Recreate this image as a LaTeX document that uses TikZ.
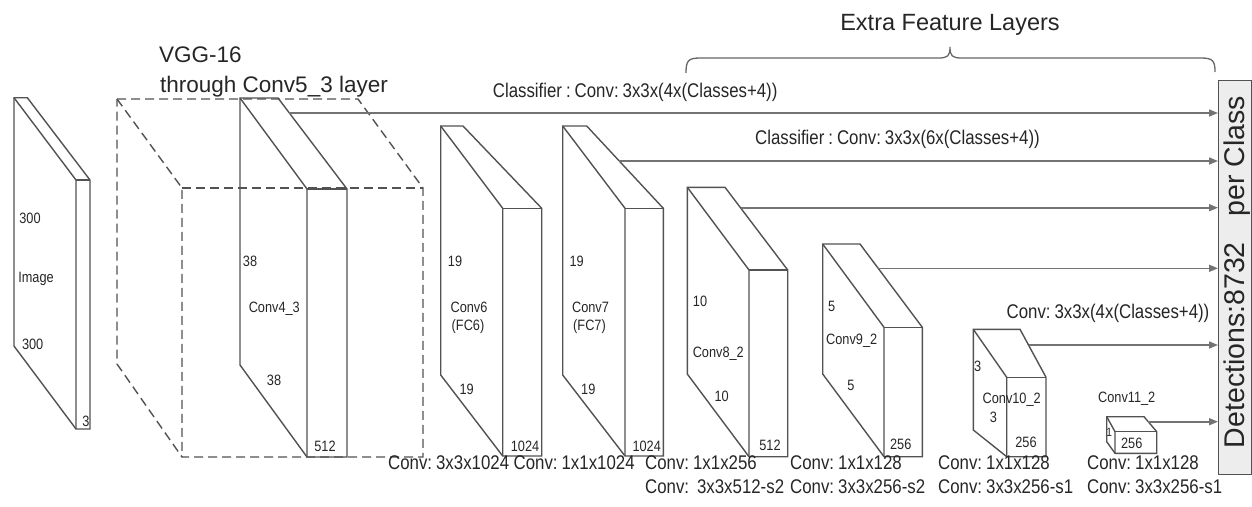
\documentclass[tikz,border=0pt]{standalone}
\usepackage{fontspec}
\setmainfont{Liberation Sans}
\newfontfamily\condf[FakeStretch=0.85,WordSpace=0.85]{Liberation Sans}
\usetikzlibrary{arrows.meta,calc}
\newcommand\layerbox[9][]{%
  \draw[blockline,#1] (#2,#4) -- (#3,#4) -- (#7,#8) -- (#7,#9) -- (#6,#9) -- (#2,#5) -- cycle;
  \draw[blockline,#1] (#2,#4) -- (#6,#8) -- (#6,#9);
  \draw[blockline,#1] (#6,#8) -- (#7,#8);
}
\begin{document}
\frenchspacing
\begin{tikzpicture}[x=1pt,y=-1pt,
  blockline/.style={draw=black!68, line width=1.4pt, line join=miter},
  vggbox/.style={dash pattern=on 9pt off 5pt},
  labtxt/.style={font=\condf\fontsize{15}{15}\selectfont, anchor=base, inner sep=0pt, text=black!85},
  smalltxt/.style={font=\condf\fontsize{12}{12}\selectfont, anchor=base, inner sep=0pt, text=black!85},
  captxt/.style={font=\condf\fontsize{19.8}{19.8}\selectfont, anchor=base west, inner sep=0pt, text=black!85},
  bigtxt/.style={font=\fontsize{22.5}{22.5}\selectfont, anchor=base west, inner sep=0pt, text=black!85},
  arrline/.style={draw=black!55, line width=1.6pt, -{Triangle[length=9pt,width=7pt]}},
]
\useasboundingbox (0,0) rectangle (1252,506);

% blocks: [style] x0 x1 y0 y1 x2 x3 y2 y3
\layerbox{14}{27.3}{97.7}{346}{76}{90}{180}{429}
\layerbox[vggbox]{117}{358}{99}{364}{182}{423}{188}{457}
\layerbox{240}{278}{98}{365}{307}{347}{189}{457}
\layerbox{440.7}{463}{126}{375}{502.7}{541.7}{208.3}{456}
\layerbox{562.7}{586.7}{126}{375}{625}{663.3}{208.3}{456}
\layerbox{687.3}{725}{187.3}{374}{749}{787.7}{270}{456.7}
\layerbox{822.7}{860}{244}{374}{884}{922.3}{327.3}{456.7}
\layerbox{973.3}{1020}{329.3}{430}{1006.7}{1046}{377.3}{456.7}
\layerbox{1106.7}{1144}{416.7}{441.7}{1115}{1156.7}{431.7}{453.3}

% detections box
\node[draw=black!68, fill=black!7, line width=1.2pt, minimum width=33pt, minimum height=394pt,
      inner sep=0pt, anchor=north west] (det) at (1218,80) {};
\node[rotate=90, font=\fontsize{28.5}{28.5}\selectfont, inner sep=0pt, text=black!85] (dettext)
      at (1237,272) {Detections:8732\hspace{26pt}per Class};

% arrow starts
\coordinate (a1) at (289.4,113);
\coordinate (a2) at (619.3,161);
\coordinate (a3) at (740.5,207.7);
\coordinate (a4) at (878.2,268.3);
\coordinate (a5) at (1028.5,345);
\coordinate (a6) at (1148.2,421.7);
\foreach \a in {a1,a2,a3,a4,a5,a6}{
  \draw[arrline] (\a) -- (\a -| det.west);
}

% brace
\draw[draw=black!60, line width=1.3pt]
  (686,73) .. controls (686,61) and (688,58) .. (700,58) -- (938,58)
  .. controls (948,58) and (950,56) .. (950,47)
  .. controls (950,56) and (952,58) .. (962,58) -- (1201,58)
  .. controls (1213,58) and (1215,61) .. (1215,72);

% titles
\node[bigtxt] (t1) at (159,62) {VGG-16};
\node[bigtxt] (t2) at (160,92) {through Conv5\_3 layer};
\node[bigtxt, anchor=base, font=\fontsize{23.5}{23.5}\selectfont] (t3) at (950,30.7) {Extra Feature Layers};
\node[captxt] (c1) at (492.7,97) {Classifier : Conv: 3x3x(4x(Classes+4))};
\node[captxt] (c2) at (755,144) {Classifier : Conv: 3x3x(6x(Classes+4))};
\node[captxt, anchor=base] (c3) at (1108,318) {Conv: 3x3x(4x(Classes+4))};

% image labels
\node[labtxt] (i1) at (30,223) {300};
\node[labtxt] (i2) at (36,282.7) {Image};
\node[labtxt] (i3) at (32.7,349.3) {300};
\node[labtxt] (i4) at (86,426) {3};
% conv4_3
\node[labtxt] (k1) at (250,266) {38};
\node[labtxt] (k2) at (274.3,312.3) {Conv4\_3};
\node[labtxt] (k3) at (274,385) {38};
\node[labtxt] (k4) at (325,451.7) {512};
% conv6
\node[labtxt] (m1) at (455,266.7) {19};
\node[labtxt] (m2) at (469,312.3) {Conv6};
\node[labtxt] (m3) at (468,330.7) {(FC6)};
\node[labtxt] (m4) at (466.7,394) {19};
\node[labtxt] (m5) at (525,451.7) {1024};
% conv7
\node[labtxt] (n1) at (576.7,266.7) {19};
\node[labtxt] (n2) at (590.5,312.3) {Conv7};
\node[labtxt] (n3) at (589.5,330.7) {(FC7)};
\node[labtxt] (n4) at (588.3,394) {19};
\node[labtxt] (n5) at (646.7,451.7) {1024};
% conv8_2
\node[labtxt] (p1) at (700,306.7) {10};
\node[labtxt] (p2) at (718.3,357.3) {Conv8\_2};
\node[labtxt] (p3) at (721.7,401.7) {10};
\node[labtxt] (p4) at (770,450) {512};
% conv9_2
\node[labtxt] (q1) at (831.7,311.7) {5};
\node[labtxt] (q2) at (851.7,344) {Conv9\_2};
\node[labtxt] (q3) at (851,390) {5};
\node[labtxt] (q4) at (900.7,449.3) {256};
% conv10_2
\node[labtxt] (r1) at (977.7,371.7) {3};
\node[labtxt] (r2) at (1011.7,403.3) {Conv10\_2};
\node[labtxt] (r3) at (993.3,422.7) {3};
\node[labtxt] (r4) at (1026,447.7) {256};
% conv11_2
\node[labtxt] (s1) at (1126.7,402.3) {Conv11\_2};
\node[smalltxt] (s2) at (1109.3,436.7) {1};
\node[labtxt] (s3) at (1131.7,448.3) {256};

% bottom captions
\node[captxt] (b1) at (388,469.5) {Conv: 3x3x1024};
\node[captxt] (b2) at (513.5,469.5) {Conv: 1x1x1024};
\node[captxt] (b3) at (645,469.5) {Conv: 1x1x256};
\node[captxt] (b4) at (645,493.5) {Conv:\ \ 3x3x512-s2};
\node[captxt] (b5) at (790,469.5) {Conv: 1x1x128};
\node[captxt] (b6) at (790,493.5) {Conv: 3x3x256-s2};
\node[captxt] (b7) at (938,469.5) {Conv: 1x1x128};
\node[captxt] (b8) at (938,493.5) {Conv: 3x3x256-s1};
\node[captxt] (b9) at (1087,469.5) {Conv: 1x1x128};
\node[captxt] (b10) at (1087,493.5) {Conv: 3x3x256-s1};
\end{tikzpicture}
\end{document}
